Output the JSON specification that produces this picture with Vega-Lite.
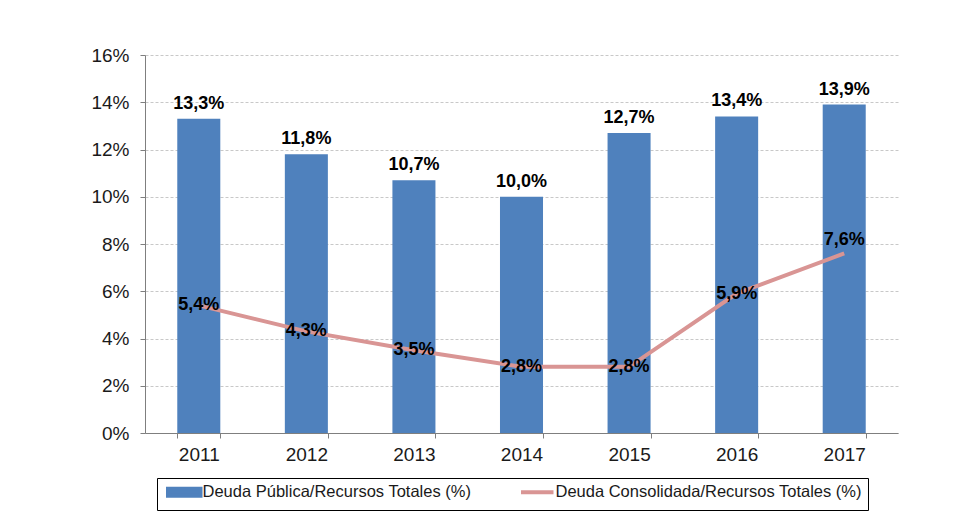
{
  "$schema": "https://vega.github.io/schema/vega-lite/v6.json",
  "width": 753,
  "height": 378,
  "autosize": {"type": "none"},
  "padding": {"left": 145, "top": 55, "right": 73, "bottom": 98},
  "background": "white",
  "config": {
    "locale": {"number": {"decimal": ",", "thousands": ".", "grouping": [3], "currency": ["", " €"]}},
    "font": "Liberation Sans",
    "view": {"stroke": null}
  },
  "data": {"values": [
    {"year": "2011", "publica": 0.133, "consolidada": 0.054},
    {"year": "2012", "publica": 0.118, "consolidada": 0.043},
    {"year": "2013", "publica": 0.107, "consolidada": 0.035},
    {"year": "2014", "publica": 0.100, "consolidada": 0.028},
    {"year": "2015", "publica": 0.127, "consolidada": 0.028},
    {"year": "2016", "publica": 0.134, "consolidada": 0.059},
    {"year": "2017", "publica": 0.139, "consolidada": 0.076}
  ]},
  "encoding": {
    "x": {"field": "year", "type": "nominal", "scale": {"paddingInner": 0.6, "paddingOuter": 0.3},
      "axis": {"title": null, "labelAngle": 0, "labelPadding": 7, "tickBand": "extent", "grid": false,
        "labelFont": "Liberation Sans", "labelFontSize": 19, "labelColor": "#1a1a1a", "domainColor": "#7f7f7f", "tickColor": "#7f7f7f", "tickSize": 5}}
  },
  "layer": [
    {
      "mark": {"type": "bar", "color": "#4f81bd"},
      "encoding": {
        "y": {"field": "publica", "type": "quantitative", "scale": {"domain": [0, 0.16]},
          "axis": {"title": null, "format": ".0%", "values": [0, 0.02, 0.04, 0.06, 0.08, 0.1, 0.12, 0.14, 0.16], "labelOverlap": false, "labelPadding": 11,
            "labelFont": "Liberation Sans", "labelFontSize": 19, "labelColor": "#1a1a1a", "domainColor": "#7f7f7f", "tickColor": "#7f7f7f", "tickSize": 5,
            "gridColor": "#c8c8c8", "gridDash": [3, 2], "gridWidth": 1}},
        "color": {"datum": "Deuda Pública/Recursos Totales (%)", "type": "nominal",
          "scale": {"domain": ["Deuda Pública/Recursos Totales (%)", "Deuda Consolidada/Recursos Totales (%)"], "range": ["#4f81bd", "#d99594"]},
          "legend": {
            "title": null, "orient": "none", "direction": "horizontal", "legendX": 12, "legendY": 423,
            "strokeColor": "#000000", "fillColor": "#ffffff", "padding": 6, "gridAlign": "none",
            "labelFont": "Liberation Sans", "labelFontSize": 16.5, "labelColor": "#1a1a1a", "labelLimit": 400, "labelBaseline": "middle",
            "symbolSize": 100, "symbolOffset": 13, "labelOffset": 10, "columnPadding": 41,
            "encode": {"symbols": {"update": {
              "shape": {"signal": "datum.value == 'Deuda Pública/Recursos Totales (%)' ? 'M-3.25,-0.7H3.25V0.7H-3.25Z' : 'M-3.25,0H3.25'"},
              "fill": {"signal": "datum.value == 'Deuda Pública/Recursos Totales (%)' ? '#4f81bd' : 'transparent'"},
              "stroke": {"signal": "datum.value == 'Deuda Pública/Recursos Totales (%)' ? 'transparent' : '#d99594'"},
              "strokeWidth": {"value": 4},
              "opacity": {"value": 1}
            }}}
          }}
      }
    },
    {
      "mark": {"type": "text", "baseline": "bottom", "dy": -6, "fontSize": 18, "fontWeight": "bold", "color": "#000000"},
      "encoding": {
        "y": {"field": "publica", "type": "quantitative"},
        "text": {"field": "publica", "type": "quantitative", "format": ".1%"}
      }
    },
    {
      "mark": {"type": "line", "strokeWidth": 4},
      "encoding": {
        "y": {"field": "consolidada", "type": "quantitative"},
        "color": {"datum": "Deuda Consolidada/Recursos Totales (%)", "type": "nominal"}
      }
    },
    {
      "transform": [{"filter": "datum.year != '2017'"}],
      "mark": {"type": "text", "baseline": "middle", "fontSize": 18, "fontWeight": "bold", "color": "#000000"},
      "encoding": {
        "y": {"field": "consolidada", "type": "quantitative"},
        "text": {"field": "consolidada", "type": "quantitative", "format": ".1%"}
      }
    },
    {
      "transform": [{"filter": "datum.year == '2017'"}],
      "mark": {"type": "text", "baseline": "bottom", "dy": -4, "fontSize": 18, "fontWeight": "bold", "color": "#000000"},
      "encoding": {
        "y": {"field": "consolidada", "type": "quantitative"},
        "text": {"field": "consolidada", "type": "quantitative", "format": ".1%"}
      }
    }
  ]
}
